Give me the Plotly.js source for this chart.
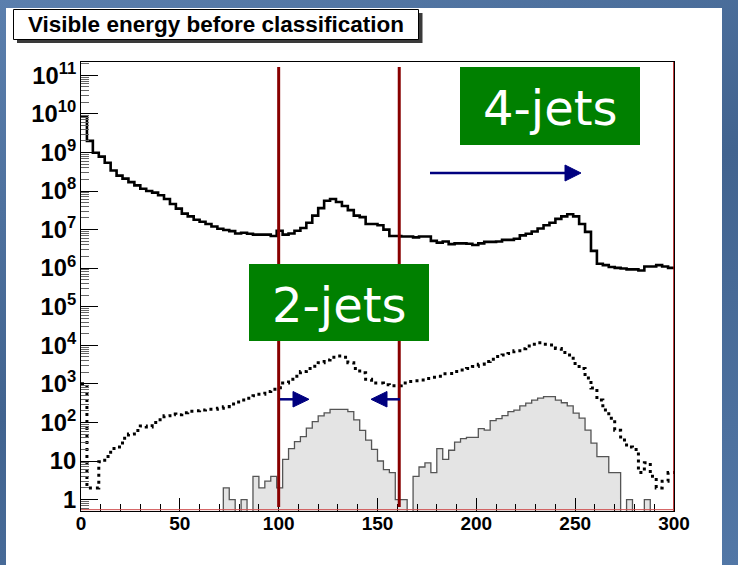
<!DOCTYPE html>
<html><head><meta charset="utf-8">
<script src="https://cdn.plot.ly/plotly-3.0.1.min.js"></script>
<style>
html,body{margin:0;padding:0;width:738px;height:565px;overflow:hidden;background:linear-gradient(160deg,#5b7fad 0%,#41638f 50%,#5277a6 100%);}
#bg{position:absolute;left:6px;top:8px;width:716px;height:557px;background:#ffffff;}
#plot{position:absolute;left:0;top:0;width:738px;height:565px;}
</style></head>
<body><div id="bg"></div><div id="plot"></div>
<script>
// ---- data (100 bins, 0..300, width 3) ----
const binStart = 0;
const binWidth = 3;
const xTickVals = [0, 50, 100, 150, 200, 250, 300];
const cutLow = 100;
const cutHigh = 161;

// solid black histogram
const totalEvents = [
 8.5e9, 2.0e9, 9.8e8, 7.8e8, 5.4e8, 3.4e8, 2.5e8, 2.1e8, 1.7e8, 1.4e8,
 1.15e8, 1.0e8, 9.1e7, 7.8e7, 6.2e7, 4.6e7, 3.5e7, 2.6e7, 2.2e7, 1.8e7,
 1.6e7, 1.4e7, 1.2e7, 1.05e7, 9.8e6, 9.1e6, 7.9e6, 8.3e6, 7.8e6, 7.4e6,
 7.4e6, 7.4e6, 6.8e6, 9.3e6, 7.4e6, 7.9e6, 9.3e6, 1.1e7, 1.5e7, 2.3e7,
 3.6e7, 5.6e7, 6.2e7, 5.2e7, 4.1e7, 3.2e7, 2.3e7, 2.1e7, 1.4e7, 1.4e7,
 1.3e7, 1.0e7, 6.8e6, 6.8e6, 6.6e6, 6.6e6, 6.3e6, 6.6e6, 6.6e6, 5.1e6,
 4.6e6, 4.9e6, 4.2e6, 4.4e6, 4.4e6, 4.3e6, 4.0e6, 4.4e6, 4.8e6, 4.8e6,
 4.9e6, 5.4e6, 5.4e6, 5.8e6, 7.1e6, 7.8e6, 8.9e6, 1.07e7, 1.3e7, 1.5e7,
 1.9e7, 2.2e7, 2.5e7, 2.2e7, 1.4e7, 8.7e6, 2.8e6, 1.3e6, 1.2e6, 1.07e6,
 1.02e6, 9.8e5, 9.3e5, 9.3e5, 8.7e5, 1.1e6, 1.1e6, 1.2e6, 1.1e6, 1.02e6
];

// dotted histogram
const signalEvents = [
 1000, 2, 2, 9.5, 13, 21, 23, 39, 50, 62,
 81, 76, 100, 117, 148, 166, 158, 178, 195, 200,
 209, 219, 219, 234, 257, 302, 339, 380, 427, 490,
 537, 631, 724, 794, 1050, 1320, 1580, 2090, 2510, 2880,
 3550, 4170, 4900, 5250, 4900, 3550, 2510, 1950, 1320, 1050,
 1050, 955, 890, 890, 1050, 1150, 1200, 1260, 1380, 1480,
 1580, 1820, 1860, 2090, 2290, 2510, 2820, 3240, 3800, 4370,
 5130, 5620, 6170, 7240, 8130, 9550, 10700, 11700, 10700, 10200,
 8320, 6460, 5620, 3390, 2510, 1410, 776, 380, 209, 129,
 63, 35, 23, 20, 5, 9, 4, 2, 3, 5
];

// grey filled histogram
const selectedEvents = [
 0, 0, 0, 0, 0, 0, 0, 0, 0, 0,
 0, 0, 0, 0, 0, 0, 0, 0, 0, 0,
 0, 0, 0, 0, 2, 1, 0, 1, 0, 4,
 2, 3, 4, 2, 11, 21, 32, 43, 71, 105,
 148, 178, 219, 219, 219, 190, 117, 62, 35, 20,
 10, 6, 5, 1, 1, 0, 4, 7, 9, 5,
 21, 11, 19, 31, 38, 41, 41, 69, 63, 112,
 126, 151, 190, 209, 269, 316, 380, 427, 468, 468,
 380, 324, 269, 174, 129, 63, 29, 13, 13, 5,
 5, 0, 1, 0, 0, 1, 0, 0, 0, 0
];

const titleText = 'Visible energy before classification';
const label4 = '4-jets';
const label2 = '2-jets';

// ---- helpers ----
const edges = totalEvents.map((_, i) => binStart + i * binWidth).concat([binStart + totalEvents.length * binWidth]);
function stair(v) { return v.concat([v[v.length - 1]]); }
const FLOOR = 0.05; // empty bins sit below the axis minimum
const L = 81, T = 62, W = 593, H = 449;
function PX(x) { return (x - L) / W; }
function PY(y) { return (T + H - y) / H; }

const tickFont = {family: 'Liberation Sans, Arial, sans-serif', size: 19, weight: 'bold', color: '#000'};

const traces = [
  {x: edges, y: stair(selectedEvents.map(v => v > 0 ? v : FLOOR)), type: 'scatter', mode: 'lines',
   line: {shape: 'hv', color: '#555555', width: 1.3}, fill: 'tozeroy', fillcolor: '#e4e4e4', hoverinfo: 'skip'},
  {x: edges, y: stair(signalEvents), type: 'scatter', mode: 'lines',
   line: {shape: 'hv', color: '#000', width: 3, dash: '3px,4px'}, hoverinfo: 'skip'},
  {x: edges, y: stair(totalEvents), type: 'scatter', mode: 'lines',
   line: {shape: 'hv', color: '#000', width: 2.6}, hoverinfo: 'skip'}
];

const navy = '#00007f';
const shapes = [
  // thin red frame pieces
  {type: 'line', xref: 'x', yref: 'paper', x0: 300, x1: 300, y0: 0, y1: 1, line: {color: '#b00000', width: 1.5}},
  {type: 'line', xref: 'x', yref: 'paper', x0: 0, x1: 300, y0: 0.003, y1: 0.003, line: {color: '#d05050', width: 1}},
  // cut lines
  {type: 'line', xref: 'x', yref: 'paper', x0: cutLow, x1: cutLow, y0: PY(507), y1: PY(67), line: {color: '#880000', width: 3}},
  {type: 'line', xref: 'x', yref: 'paper', x0: cutHigh, x1: cutHigh, y0: PY(507), y1: PY(67), line: {color: '#880000', width: 3}},
  // green boxes
  {type: 'rect', xref: 'paper', yref: 'paper', x0: PX(460), x1: PX(640), y0: PY(145), y1: PY(67), fillcolor: '#008000', line: {width: 0}},
  {type: 'rect', xref: 'paper', yref: 'paper', x0: PX(249), x1: PX(429), y0: PY(341), y1: PY(264), fillcolor: '#008000', line: {width: 0}},
  // arrows
  {type: 'line', xref: 'paper', yref: 'paper', x0: PX(430), x1: PX(567), y0: PY(173), y1: PY(173), line: {color: navy, width: 2.5}},
  {type: 'path', xref: 'paper', yref: 'paper', path: `M ${PX(565)} ${PY(165)} L ${PX(581)} ${PY(173)} L ${PX(565)} ${PY(181)} Z`, fillcolor: navy, line: {color: navy, width: 1}},
  {type: 'line', xref: 'paper', yref: 'paper', x0: PX(280), x1: PX(295), y0: PY(399.3), y1: PY(399.3), line: {color: navy, width: 2.5}},
  {type: 'path', xref: 'paper', yref: 'paper', path: `M ${PX(293)} ${PY(391.5)} L ${PX(309)} ${PY(399.3)} L ${PX(293)} ${PY(407)} Z`, fillcolor: navy, line: {color: navy, width: 1}},
  {type: 'line', xref: 'paper', yref: 'paper', x0: PX(385), x1: PX(400), y0: PY(399.3), y1: PY(399.3), line: {color: navy, width: 2.5}},
  {type: 'path', xref: 'paper', yref: 'paper', path: `M ${PX(387)} ${PY(391.5)} L ${PX(371)} ${PY(399.3)} L ${PX(387)} ${PY(407)} Z`, fillcolor: navy, line: {color: navy, width: 1}},
  // title box with shadow
  {type: 'rect', xref: 'paper', yref: 'paper', x0: PX(17), x1: PX(422.5), y0: PY(43), y1: PY(13), fillcolor: '#3a3a3a', line: {width: 0}},
  {type: 'rect', xref: 'paper', yref: 'paper', x0: PX(13.5), x1: PX(418.5), y0: PY(39.5), y1: PY(9.5), fillcolor: '#ffffff', line: {color: '#000', width: 1}}
];

const annotations = [
  {xref: 'paper', yref: 'paper', x: PX(215.5), y: PY(24.5), xanchor: 'center', yanchor: 'middle', showarrow: false,
   text: titleText, font: {family: 'Liberation Sans, Arial, sans-serif', size: 22.5, weight: 'bold', color: '#000'}},
  {xref: 'paper', yref: 'paper', x: PX(550), y: PY(108), xanchor: 'center', yanchor: 'middle', showarrow: false,
   text: label4, font: {family: 'DejaVu Sans, sans-serif', size: 48, color: '#ffffff'}},
  {xref: 'paper', yref: 'paper', x: PX(339), y: PY(305), xanchor: 'center', yanchor: 'middle', showarrow: false,
   text: label2, font: {family: 'DejaVu Sans, sans-serif', size: 48, color: '#ffffff'}}
];

const layout = {
  width: 738, height: 565,
  margin: {l: L, r: 738 - L - W, t: T, b: 565 - T - H, pad: 0},
  paper_bgcolor: 'rgba(0,0,0,0)', plot_bgcolor: '#ffffff',
  showlegend: false,
  xaxis: {range: [0, 300], tickvals: xTickVals, ticktext: xTickVals.map(String), ticks: 'inside', ticklen: 13, tickwidth: 1, tickcolor: '#000',
          minor: {ticks: 'inside', ticklen: 7, dtick: 10, tick0: 0, tickcolor: '#000', showgrid: false},
          showgrid: false, zeroline: false, showline: true, mirror: true, linecolor: '#000', linewidth: 1,
          ticklabelstandoff: -5,
          tickfont: tickFont, fixedrange: true},
  yaxis: {type: 'log', range: [-0.296, 11.345], dtick: 1, exponentformat: 'power', ticks: 'inside', ticklen: 17, tickwidth: 1, tickcolor: '#000',
          minor: {ticks: 'inside', ticklen: 8, dtick: 'D1', tickcolor: '#666', showgrid: false},
          showgrid: false, zeroline: false, showline: true, mirror: true, linecolor: '#000', linewidth: 1,
          tickfont: tickFont, fixedrange: true},
  shapes: shapes,
  annotations: annotations
};

Plotly.newPlot('plot', traces, layout, {staticPlot: true, displayModeBar: false});
</script>
</body></html>
